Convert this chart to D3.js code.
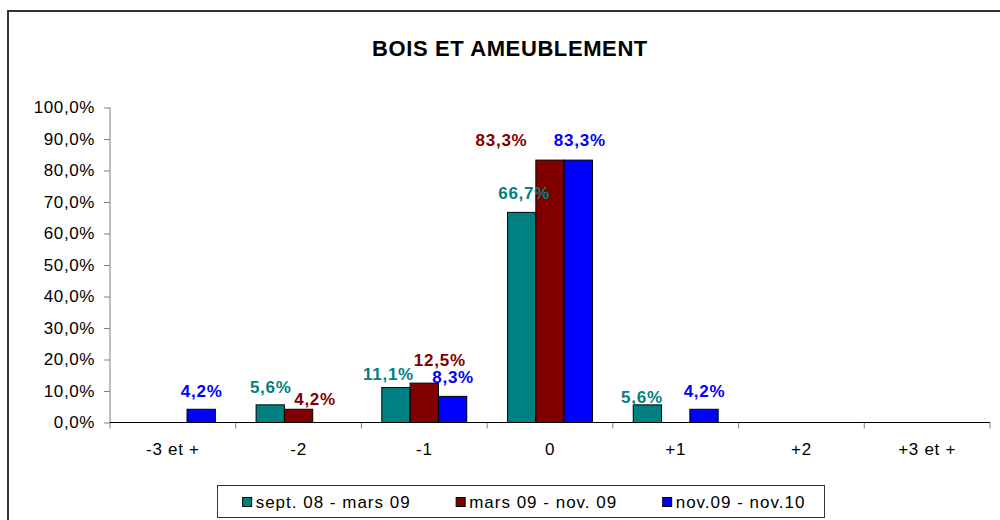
<!DOCTYPE html>
<html>
<head>
<meta charset="utf-8">
<script src="https://cdn.jsdelivr.net/npm/d3@7"></script>
<style>
  body { margin: 0; background: #fff; }
  svg text { font-family: "Liberation Sans", Arial, sans-serif; }
</style>
</head>
<body>
<div id="chart"></div>
<script>
// bois et ameublement - distribution chart

var title = "BOIS ET AMEUBLEMENT";
var categories = ["-3 et +", "-2", "-1", "0", "+1", "+2", "+3 et +"];
var seriesNames = ["sept. 08 - mars 09", "mars 09 - nov. 09", "nov.09 - nov.10"];
var seriesColors = ["#008080", "#800000", "#0000ff"];
var valsSept08 = [0, 5.6, 11.1, 66.7, 5.6, 0, 0];
var valsMars09 = [0, 4.2, 12.5, 83.3, 0, 0, 0];
var valsNov09 = [4.2, 0, 8.3, 83.3, 4.2, 0, 0];
var yTicks = [0, 10, 20, 30, 40, 50, 60, 70, 80, 90, 100];

// hand nudges for the data labels that excel moved around (px)
var labelNudge = {
    "1|-2": [16, 8],
    "0|-1": [-8, 4],
    "1|-1": [15, -5],
    "2|-1": [0, -1],
    "0|0": [2, -1],
    "1|0": [-49, -2],
    "2|0": [1, -2],
    "0|+1": [-6, 10]
};

var allVals = [valsSept08, valsMars09, valsNov09];

var W = 1000, H = 520;
var margin = { left: 110, right: 10, top: 107.5, bottom: 97.5 };

var fr = d3.formatLocale({ decimal: ",", thousands: " ", grouping: [3], currency: ["", "€"] });
var pct = function(v){ return fr.format(".1f")(v) + "%"; };

var svg = d3.select("#chart").append("svg")
    .attr("width", W)
    .attr("height", H);

// outer frame (runs off the picture on the right and bottom)
svg.append("rect")
    .attr("x", 8).attr("y", 11)
    .attr("width", W + 20).attr("height", H + 20)
    .attr("fill", "none")
    .attr("stroke", "#333")
    .attr("stroke-width", 2);

svg.append("text")
    .attr("x", 510).attr("y", 56)
    .attr("text-anchor", "middle")
    .style("font-size", "22px")
    .style("font-weight", "bold")
    .style("letter-spacing", "0.6px")
    .text(title);

var x0 = d3.scaleBand()
    .domain(categories)
    .range([margin.left, W - margin.right])
    .paddingInner(0).paddingOuter(0);

var x1 = d3.scaleBand()
    .domain(d3.range(seriesNames.length))
    .range([0, x0.bandwidth()])
    .paddingInner(0).paddingOuter(0.72);

var y = d3.scaleLinear()
    .domain([0, 100])
    .range([H - margin.bottom, margin.top]);

// y axis
var yAxis = svg.append("g")
    .attr("transform", "translate(" + margin.left + ",0)")
    .call(d3.axisLeft(y).tickValues(yTicks).tickFormat(pct).tickSize(6).tickPadding(9));
yAxis.select(".domain").attr("stroke", "#808080").attr("d", "M0," + y(0) + "V" + y(100));
yAxis.selectAll(".tick line").attr("stroke", "#808080");
yAxis.selectAll(".tick text")
    .style("font-size", "17px")
    .style("letter-spacing", "0.6px")
    .attr("fill", "#000");

// x axis: labels at band centres, ticks at band edges
var xAxis = svg.append("g")
    .attr("transform", "translate(0," + y(0) + ")")
    .call(d3.axisBottom(x0).tickSize(0).tickPadding(20));
xAxis.select(".domain").remove();
xAxis.selectAll(".tick text")
    .style("font-size", "17px")
    .style("letter-spacing", "0.7px")
    .attr("fill", "#000");

var edges = categories.map(function(c){ return x0(c); }).concat([x0.range()[1]]);
xAxis.selectAll(".edge")
    .data(edges)
    .enter().append("line")
    .attr("class", "edge")
    .attr("x1", function(d){ return d; })
    .attr("x2", function(d){ return d; })
    .attr("y1", 0).attr("y2", 6)
    .attr("stroke", "#808080");

// bars
var cells = [];
categories.forEach(function(c, ci){
    allVals.forEach(function(arr, si){
	if (arr[ci] > 0) cells.push({ cat: c, s: si, v: arr[ci] });
    });
});

svg.selectAll(".bar")
    .data(cells)
    .enter().append("rect")
    .attr("class", "bar")
    .attr("x", function(d){ return x0(d.cat) + x1(d.s); })
    .attr("y", function(d){ return y(d.v); })
    .attr("width", x1.bandwidth())
    .attr("height", function(d){ return y(0) - y(d.v); })
    .attr("fill", function(d){ return seriesColors[d.s]; })
    .attr("stroke", "#000")
    .attr("stroke-width", 1);

// x axis line on top of the bar bottoms
svg.append("line")
    .attr("x1", margin.left).attr("x2", W - margin.right)
    .attr("y1", y(0)).attr("y2", y(0))
    .attr("stroke", "#000");

svg.selectAll(".lbl")
    .data(cells)
    .enter().append("text")
    .attr("class", "lbl")
    .attr("text-anchor", "middle")
    .attr("x", function(d){
	var n = labelNudge[d.s + "|" + d.cat] || [0, 0];
	return x0(d.cat) + x1(d.s) + x1.bandwidth() / 2 + n[0] + 0.5;
    })
    .attr("y", function(d){
	var n = labelNudge[d.s + "|" + d.cat] || [0, 0];
	return y(d.v) - 12 + n[1];
    })
    .attr("fill", function(d){ return seriesColors[d.s]; })
    .style("font-size", "17px")
    .style("font-weight", "bold")
    .style("letter-spacing", "0.75px")
    .text(function(d){ return pct(d.v); });

// legend
var lg = svg.append("g");
var legBox = lg.append("rect")
    .attr("fill", "#fff")
    .attr("stroke", "#333")
    .attr("stroke-width", 1);

var items = lg.selectAll(".li")
    .data(seriesNames)
    .enter().append("g")
    .attr("class", "li");
items.append("rect")
    .attr("width", 9).attr("height", 9)
    .attr("y", 497.5)
    .attr("fill", function(d, i){ return seriesColors[i]; })
    .attr("stroke", "#000");
items.append("text")
    .attr("x", 13)
    .attr("y", 507.5)
    .style("font-size", "17px")
    .style("letter-spacing", "1px")
    .text(function(d){ return d; });

var gap = 45.5, pad = 26, xx = 0, widths = [];
items.each(function(){
    widths.push(13 + d3.select(this).select("text").node().getComputedTextLength());
});
var total = d3.sum(widths) + gap * (widths.length - 1);
var startX = 524 - total / 2;
items.attr("transform", function(d, i){
    var t = "translate(" + (startX + xx) + ",0)";
    xx += widths[i] + gap;
    return t;
});
legBox.attr("x", Math.round(startX - pad) + 0.5)
    .attr("y", 485.5)
    .attr("width", Math.round(total + pad * 2 - 8))
    .attr("height", 32);
</script>
</body>
</html>
